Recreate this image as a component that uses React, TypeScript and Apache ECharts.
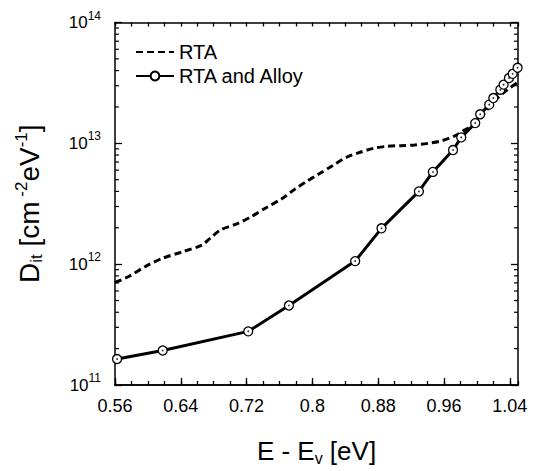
import React, { useEffect, useRef } from 'react';
import * as echarts from 'echarts';

// RTA (dashed) curve: energy E - Ev [eV] and Dit [cm^-2 eV^-1]
const energyRta = [0.56, 0.5766, 0.5973, 0.618, 0.6428, 0.6655, 0.6759, 0.6883, 0.709, 0.7256, 0.7421, 0.7628, 0.7794, 0.7918, 0.8083, 0.8249, 0.8415, 0.858, 0.8746, 0.8911, 0.9077, 0.9242, 0.9408, 0.9573, 0.9739, 0.9843, 0.9988, 1.0195, 1.036, 1.049];
const ditRta = [7.06e11, 7.9e11, 9.6e11, 1.12e12, 1.27e12, 1.44e12, 1.64e12, 1.92e12, 2.17e12, 2.47e12, 2.89e12, 3.48e12, 4.21e12, 4.78e12, 5.6e12, 6.55e12, 7.67e12, 8.43e12, 9.1e12, 9.45e12, 9.57e12, 9.69e12, 1.0e13, 1.05e13, 1.16e13, 1.28e13, 1.46e13, 2.17e13, 2.74e13, 3.17e13];

// RTA and Alloy (solid with circles)
const energyAlloy = [0.5625, 0.618, 0.722, 0.7715, 0.852, 0.884, 0.9295, 0.9465, 0.971, 0.981, 0.998, 1.004, 1.015, 1.02, 1.0285, 1.0325, 1.039, 1.0435, 1.0495];
const ditAlloy = [1.64e11, 1.93e11, 2.78e11, 4.55e11, 1.06e12, 1.98e12, 4.0e12, 5.8e12, 8.8e12, 1.12e13, 1.47e13, 1.74e13, 2.09e13, 2.37e13, 2.78e13, 3.06e13, 3.47e13, 3.76e13, 4.22e13];

const seriesNames = ['RTA', 'RTA and Alloy'];
const xMin = 0.56;
const xMax = 1.05;
const xLabelStep = 0.08;
const xMinorStep = 0.02;
const yMin = 1e11;
const yMax = 1e14;
const yDecades = [1e11, 1e12, 1e13];
const minorMultipliers = [2, 3, 4, 5, 6, 7, 8, 9];

const FONT = 'Liberation Sans, Arial, Helvetica, sans-serif';

export default function App() {
  const ref = useRef<HTMLDivElement>(null);
  useEffect(() => {
    const chart = echarts.init(ref.current!, null, { renderer: 'svg' });
    const rtaData = energyRta.map((x, i) => [x, ditRta[i]]);
    const alloyData = energyAlloy.map((x, i) => [x, ditAlloy[i]]);
    const minorTicks = yDecades.flatMap((d) => minorMultipliers.map((m) => [xMin, m * d]));
    const axisLine = { show: true, lineStyle: { color: '#000', width: 1.5 } };
    const tickStyle = { color: '#000', width: 1.3 };

    chart.setOption({
      animation: false,
      backgroundColor: '#fff',
      textStyle: { fontFamily: FONT, color: '#000' },
      grid: { left: 115, right: 16, top: 22.5, bottom: 85.5, containLabel: false },
      legend: {
        data: [
          { name: seriesNames[0], itemStyle: { opacity: 0 } },
          { name: seriesNames[1] },
        ],
        orient: 'vertical',
        left: 135,
        top: 41,
        padding: 0,
        itemWidth: 38,
        itemHeight: 11,
        itemGap: 2,
        textStyle: { fontSize: 20, color: '#000', fontFamily: FONT, lineHeight: 22 },
      },
      xAxis: [
        {
          type: 'value', min: xMin, max: xMax, interval: xLabelStep, position: 'bottom',
          axisLine,
          axisTick: { inside: true, length: 7, lineStyle: tickStyle },
          splitLine: { show: false },
          axisLabel: {
            margin: 12, fontSize: 18, color: '#000', fontFamily: FONT, showMaxLabel: false,
            formatter: (v: number) => (Math.round(v * 100) % 8 === 0 ? String(Math.round(v * 100) / 100) : ''),
          },
          name: '{m|E - E}{sub|v}{m| [eV]}',
          nameLocation: 'middle',
          nameGap: 51,
          nameTextStyle: {
            rich: {
              m: { fontSize: 26, lineHeight: 30, color: '#000', fontFamily: FONT },
              sub: { fontSize: 16, lineHeight: 16, verticalAlign: 'bottom', color: '#000', fontFamily: FONT },
            },
          },
        },
        {
          type: 'value', min: xMin, max: xMax, interval: xMinorStep, position: 'bottom',
          axisLine,
          axisTick: { inside: true, length: 4, lineStyle: tickStyle },
          axisLabel: { show: false },
          splitLine: { show: false },
        },
        {
          type: 'value', min: xMin, max: xMax, interval: xMinorStep, position: 'top',
          axisLine,
          axisTick: { inside: true, length: 4, lineStyle: tickStyle },
          axisLabel: { show: false },
          splitLine: { show: false },
        },
      ],
      yAxis: [
        {
          type: 'log', logBase: 10, min: yMin, max: yMax, position: 'left',
          axisLine,
          axisTick: { inside: true, length: 7, lineStyle: tickStyle },
          splitLine: { show: false },
          minorTick: { show: false },
          axisLabel: {
            margin: 14,
            formatter: (v: number) => `{b|10}{s|${Math.round(Math.log10(v))}}`,
            rich: {
              b: { fontSize: 17, lineHeight: 26, color: '#000', fontFamily: FONT },
              s: { fontSize: 12, lineHeight: 12, verticalAlign: 'top', color: '#000', fontFamily: FONT },
            },
          },
          name: '{m|D}{sub|it}{m| [cm}{sup| -2}{m|eV}{sup|-1}{m|]}',
          nameLocation: 'middle',
          nameRotate: 90,
          nameGap: 70,
          nameTextStyle: {
            rich: {
              m: { fontSize: 28, lineHeight: 32, color: '#000', fontFamily: FONT },
              sub: { fontSize: 17, lineHeight: 17, verticalAlign: 'bottom', color: '#000', fontFamily: FONT },
              sup: { fontSize: 17, lineHeight: 17, verticalAlign: 'top', color: '#000', fontFamily: FONT },
            },
          },
        },
        {
          type: 'log', logBase: 10, min: yMin, max: yMax, position: 'right',
          axisLine,
          axisTick: { inside: true, length: 7, lineStyle: tickStyle },
          axisLabel: { show: false },
          splitLine: { show: false },
        },
      ],
      series: [
        {
          name: seriesNames[0],
          type: 'line',
          data: rtaData,
          symbol: 'none',
          smooth: 0.3,
          lineStyle: { color: '#000', width: 3, type: [7, 4] },
          itemStyle: { color: 'rgba(0,0,0,0)' },
          z: 2,
        },
        {
          name: seriesNames[1],
          type: 'line',
          data: alloyData,
          symbol: 'circle',
          symbolSize: 9,
          lineStyle: { color: '#000', width: 3 },
          itemStyle: { color: '#fff', borderColor: '#000', borderWidth: 1.3 },
          z: 3,
        },
        {
          name: 'dots',
          type: 'scatter',
          data: alloyData,
          symbolSize: 1.8,
          itemStyle: { color: '#000' },
          silent: true,
          z: 4,
        },
        {
          name: 'minorTicks',
          type: 'custom',
          data: minorTicks,
          silent: true,
          clip: false,
          encode: { x: 0, y: 1 },
          renderItem: (params: any, api: any) => {
            const v = api.value(1);
            const l = api.coord([xMin, v]);
            const r = api.coord([xMax, v]);
            return {
              type: 'group',
              children: [
                { type: 'line', shape: { x1: l[0], y1: l[1], x2: l[0] + 4, y2: l[1] }, style: { stroke: '#000', lineWidth: 1.2 } },
                { type: 'line', shape: { x1: r[0] - 4, y1: r[1], x2: r[0], y2: r[1] }, style: { stroke: '#000', lineWidth: 1.2 } },
              ],
            };
          },
        },
      ],
    });
    return () => chart.dispose();
  }, []);
  return <div ref={ref} style={{ position: 'fixed', left: 0, top: 0, width: 534, height: 471 }} />;
}
